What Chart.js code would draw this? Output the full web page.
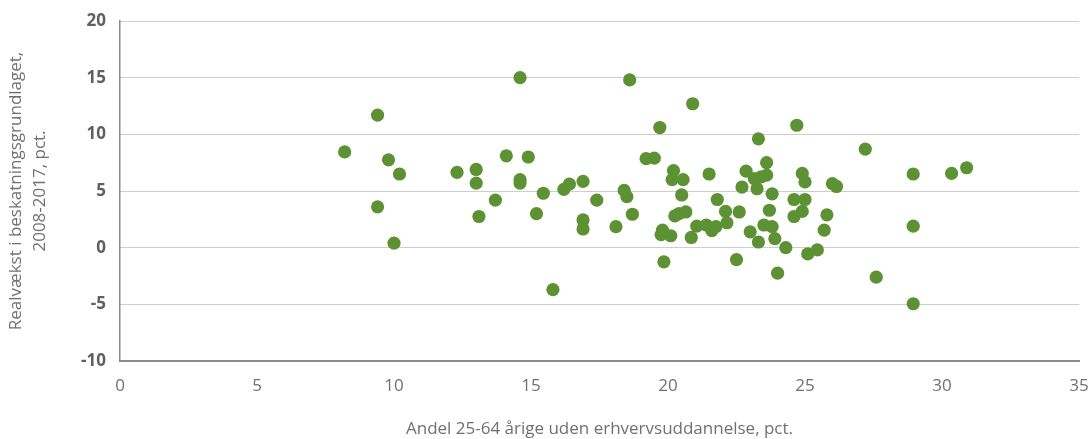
<!DOCTYPE html>
<html>
<head>
<meta charset="utf-8">
<script src="https://cdn.jsdelivr.net/npm/chart.js@4/dist/chart.umd.min.js"></script>
<style>
  html, body { margin: 0; padding: 0; background: #fff; }
  #chart { display: block; }
</style>
</head>
<body>
<canvas id="chart" width="1091" height="439"></canvas>
<script>
// andel uden erhvervsuddannelse (x) og realvækst (y)
const shareNoEducation = [
  8.2, 9.4, 9.4, 9.8, 10.0, 10.2, 12.3, 13.0, 13.0, 13.1,
  13.7, 14.1, 14.6, 14.6, 14.6, 14.9, 15.2, 15.45, 15.8, 16.2,
  16.4, 16.9, 16.9, 16.9, 17.4, 18.1, 18.4, 18.5, 18.6, 18.7,
  19.2, 19.5, 19.7, 19.8, 19.75, 19.85, 20.1, 20.2, 20.15, 20.55,
  20.5, 20.25, 20.4, 20.65, 20.85, 20.9, 21.05, 21.4, 21.6, 21.75,
  21.5, 21.8, 22.1, 22.15, 22.5, 22.6, 22.7, 22.85, 23.0, 23.15,
  23.25, 23.3, 23.3, 23.4, 23.5, 23.6, 23.6, 23.7, 23.8, 23.8,
  23.9, 24.0, 24.3, 24.6, 24.6, 24.7, 24.9, 24.9, 25.0, 25.0,
  25.1, 25.45, 25.7, 25.8, 26.0, 26.15, 27.2, 27.6, 28.95, 28.95,
  28.95, 30.35, 30.9
];
const realGrowth = [
  8.45, 11.7, 3.6, 7.75, 0.4, 6.5, 6.65, 6.9, 5.7, 2.75,
  4.2, 8.1, 15.0, 6.0, 5.7, 8.0, 3.0, 4.8, -3.7, 5.15,
  5.6, 5.85, 2.45, 1.65, 4.2, 1.85, 5.05, 4.5, 14.8, 2.95,
  7.85, 7.9, 10.6, 1.55, 1.15, -1.25, 1.05, 6.8, 6.0, 6.0,
  4.65, 2.8, 3.0, 3.15, 0.9, 12.7, 1.9, 2.0, 1.5, 1.85,
  6.5, 4.25, 3.2, 2.2, -1.05, 3.15, 5.35, 6.75, 1.4, 6.1,
  5.2, 9.6, 0.5, 6.25, 2.0, 7.5, 6.4, 3.3, 4.75, 1.85,
  0.8, -2.25, 0.0, 4.25, 2.75, 10.8, 6.55, 3.2, 5.8, 4.25,
  -0.55, -0.2, 1.55, 2.9, 5.65, 5.4, 8.7, -2.6, 6.5, 1.9,
  -4.95, 6.55, 7.05
];

const xTitle = "Andel 25-64 årige uden erhvervsuddannelse, pct.";
const yTitle = ["Realvækst i beskatningsgrundlaget,", "2008-2017, pct."];

const points = shareNoEducation.map((x, i) => ({ x: x, y: realGrowth[i] }));

const fontFamily = "'Open Sans', 'DejaVu Sans', sans-serif";

new Chart(document.querySelector("#chart"), {
  type: "scatter",
  data: {
    datasets: [
      {
        data: points,
        backgroundColor: "#5d9234",
        borderWidth: 0,
        pointRadius: 6.6,
        pointHoverRadius: 6.6,
      },
    ],
  },
  options: {
    responsive: false,
    animation: false,
    events: [],
    layout: { padding: { top: 21, right: 12, left: 0, bottom: 0 } },
    plugins: { legend: { display: false }, tooltip: { enabled: false } },
    scales: {
      x: {
        type: "linear",
        min: 0,
        max: 35,
        afterFit: (scale) => {
          scale.height = 78;
          scale.paddingLeft = 0;
          scale.paddingRight = 0;
        },
        ticks: {
          stepSize: 5,
          padding: 15,
          color: "#707070",
          font: { family: fontFamily, size: 17 },
        },
        grid: { display: false, drawTicks: false },
        border: { display: true, color: "#8a8a8a", width: 2 },
        title: {
          display: true,
          text: xTitle,
          color: "#707070",
          padding: { top: 0, bottom: 0 },
          font: { family: fontFamily, size: 17 },
        },
      },
      y: {
        min: -10,
        max: 20,
        afterFit: (scale) => {
          scale.width = 120;
          scale.paddingTop = 0;
          scale.paddingBottom = 0;
        },
        ticks: {
          stepSize: 5,
          padding: 14,
          color: "#606060",
          font: { family: fontFamily, size: 17, weight: "bold" },
        },
        grid: { color: "#9a9a9a", lineWidth: 1, drawTicks: false },
        border: { display: true, color: "#8a8a8a", width: 1.5, dash: [1, 1] },
        title: {
          display: true,
          text: yTitle,
          color: "#707070",
          padding: { top: 4, bottom: 0 },
          font: { family: fontFamily, size: 17, lineHeight: 1.4 },
        },
      },
    },
  },
});
</script>
</body>
</html>
